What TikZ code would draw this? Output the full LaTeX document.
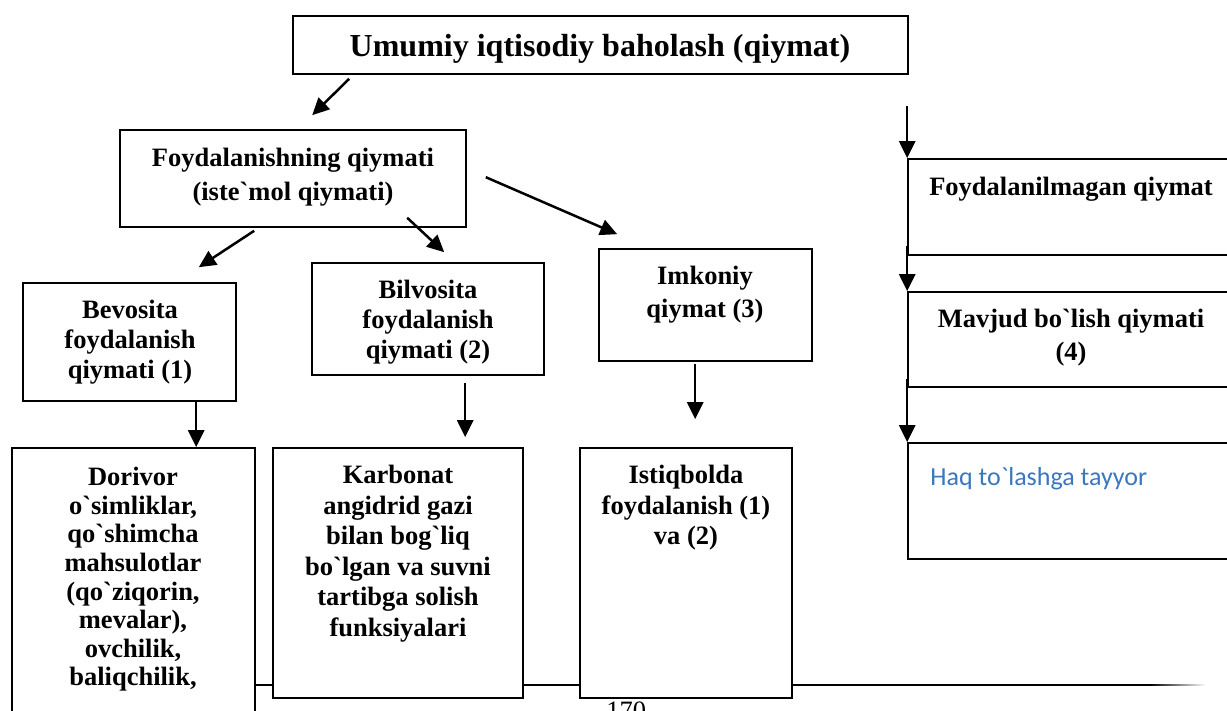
\documentclass[tikz,border=0pt]{standalone}
\usepackage{fontspec}
\setmainfont{Liberation Serif}[Ligatures=TeXOff]
\newfontfamily\calibrifont{Carlito}
\usetikzlibrary{arrows.meta,calc,fit}
\definecolor{haqblue}{RGB}{58,120,190}
\tikzset{
  box/.style={draw=black,line width=0.8pt,fill=white,inner sep=0pt},
  arr/.style={line width=1.25pt,-{Triangle[length=8.5pt,width=8pt]}},
  lbl/.style={inner sep=0pt,align=center,font=\bfseries\fontsize{13.25}{#1}\selectfont},
  lbl/.default=15
}
\begin{document}
\begin{tikzpicture}[x=0.5pt,y=-0.5pt]
\useasboundingbox (0,0) rectangle (1227,711);
\clip (0,0) rectangle (1227,711);
\fill[white] (0,0) rectangle (1227,711);
% footer rule of the page
\draw[line width=0.8pt,black] (256,685) -- (1150,685);
\shade[left color=black,right color=white] (1150,684.2) rectangle (1206,685.8);
% boxes
\node[box,fit={(293,16) (908,74)}] (top) {};
\node[box,fit={(120,130) (466,227)}] (foyd) {};
\node[box,fit={(23,283) (236,401)}] (bev) {};
\node[box,fit={(312,263) (544,375)}] (bil) {};
\node[box,fit={(599,249) (812,361)}] (imk) {};
\node[box,fit={(12,448) (255,740)}] (dor) {};
\node[box,fit={(273,448) (523,698)}] (kar) {};
\node[box,fit={(580,448) (792,698)}] (ist) {};
\node[box,fit={(908,159) (1250,255)}] (fa) {};
\node[box,fit={(908,292) (1250,387)}] (mav) {};
\node[box,fit={(908,443) (1250,559)}] (haq) {};
% texts
\node[inner sep=0pt,anchor=base,font=\bfseries\fontsize{16}{18}\selectfont] (topT) at (600,57) {Umumiy iqtisodiy baholash (qiymat)};
\node[lbl=17,anchor=north] (foydT) at (293,148) {Foydalanishning qiymati\\(iste`mol qiymati)};
\node[lbl=15,anchor=north] (bevT) at (130,300) {Bevosita\\foydalanish\\qiymati (1)};
\node[lbl=15,anchor=north] (bilT) at (428,280) {Bilvosita\\foydalanish\\qiymati (2)};
\node[lbl=16.5,anchor=north] (imkT) at (705,266) {Imkoniy\\qiymat (3)};
\node[lbl=14.3,anchor=north] (dorT) at (133,467) {Dorivor\\o`simliklar,\\qo`shimcha\\mahsulotlar\\(qo`ziqorin,\\mevalar),\\ovchilik,\\baliqchilik,};
\node[lbl=15.25,anchor=north] (karT) at (398,465) {Karbonat\\angidrid gazi\\bilan bog`liq\\bo`lgan va suvni\\tartibga solish\\funksiyalari};
\node[lbl=15.25,anchor=north] (istT) at (686,465) {Istiqbolda\\foydalanish (1)\\va (2)};
\node[inner sep=0pt,anchor=base,font=\bfseries\fontsize{13.25}{15}\selectfont] (faT) at (1071,196) {Foydalanilmagan qiymat};
\node[lbl=16.5,anchor=north] (mavT) at (1071,309) {Mavjud bo`lish qiymati\\(4)};
\node[inner sep=0pt,anchor=base west,text=haqblue,font=\calibrifont\fontsize{13}{15}\selectfont] (haqT) at (930,485) {Haq to`lashga tayyor};
\node[inner sep=0pt,anchor=base west,font=\fontsize{13.25}{15}\selectfont] (pagenum) at (606,719) {170};
% connectors
\draw[arr] ($(top.south west)+(57,4)$) -- ($(foyd.north west)+(193,-14)$);
\draw[arr] ($(foyd.south west)+(135,3)$) -- ($(bev.north east)+(-38,-15)$);
\draw[arr] ($(foyd.south west)+(288,-10)$) -- ($(bil.north west)+(133,-10)$);
\draw[arr] ($(foyd.north east)+(19,48)$) -- ($(imk.north west)+(19,-14)$);
\draw[arr] ($(bev.south west)+(174,0)$) -- ($(dor.north west)+(185,0)$);
\draw[arr] ($(bil.south west)+(154,7)$) -- ($(kar.north west)+(193,-10)$);
\draw[arr] ($(imk.south west)+(97,2)$) -- ($(ist.north west)+(116,-28)$);
\draw[arr] ($(fa.north west)+(0,-52)$) -- (fa.north west);
\draw[arr] ($(fa.south west)+(0,-10)$) -- (mav.north west);
\draw[arr] ($(mav.south west)+(0,-9)$) -- (haq.north west);
\end{tikzpicture}
\end{document}
